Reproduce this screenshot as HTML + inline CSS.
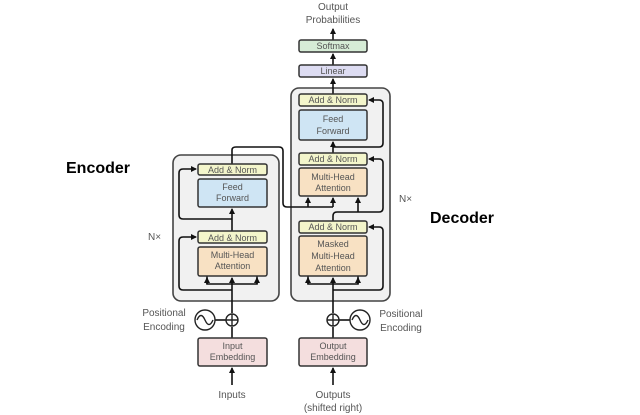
<!DOCTYPE html>
<html><head><meta charset="utf-8"><style>
html,body{margin:0;padding:0;background:#fff;}
svg{display:block;}
text{font-family:"Liberation Sans",sans-serif;}
</style></head><body>
<svg width="640" height="415" viewBox="0 0 640 415" xmlns="http://www.w3.org/2000/svg">
<defs>
<marker id="a" markerWidth="6" markerHeight="6" refX="5" refY="3" orient="auto" markerUnits="userSpaceOnUse">
<path d="M0,0 L6,3 L0,6 z" fill="#111"/></marker>
</defs>
<!-- frames -->
<rect x="173" y="155" width="106" height="146" rx="8" fill="#f1f1f1" stroke="#444" stroke-width="1.6"/>
<rect x="291" y="88" width="99" height="213" rx="8" fill="#f1f1f1" stroke="#444" stroke-width="1.6"/>

<g stroke="#111" stroke-width="1.6" fill="none">
<!-- encoder main line -->
<line x1="232" y1="385" x2="232" y2="368" marker-end="url(#a)"/>
<line x1="232" y1="338" x2="232" y2="327"/>
<line x1="232" y1="313" x2="232" y2="284"/>
<path d="M207,276 L207,284 L257,284 L257,276"/>
<line x1="207" y1="284" x2="207" y2="278" marker-end="url(#a)"/>
<line x1="232" y1="284" x2="232" y2="278" marker-end="url(#a)"/>
<line x1="257" y1="284" x2="257" y2="278" marker-end="url(#a)"/>
<line x1="232" y1="231" x2="232" y2="209" marker-end="url(#a)"/>
<path d="M232,290 L183,290 Q179,290 179,286 L179,241 Q179,237 183,237 L196,237" marker-end="url(#a)"/>
<path d="M232,219 L183,219 Q179,219 179,215 L179,173 Q179,169 183,169 L196,169" marker-end="url(#a)"/>
<!-- encoder output to decoder -->
<path d="M232,164 L232,150 Q232,147 236,147 L279,147 Q283,147 283,151 L283,203 Q283,207 287,207 L333,207"/>
<line x1="308" y1="207" x2="308" y2="198" marker-end="url(#a)"/>
<line x1="333" y1="207" x2="333" y2="198" marker-end="url(#a)"/>
<!-- decoder main -->
<line x1="333" y1="385" x2="333" y2="368" marker-end="url(#a)"/>
<line x1="333" y1="338" x2="333" y2="327"/>
<line x1="333" y1="313" x2="333" y2="284"/>
<path d="M308,276 L308,284 L358,284 L358,276"/>
<line x1="308" y1="284" x2="308" y2="278" marker-end="url(#a)"/>
<line x1="333" y1="284" x2="333" y2="278" marker-end="url(#a)"/>
<line x1="358" y1="284" x2="358" y2="278" marker-end="url(#a)"/>
<path d="M333,290 L379,290 Q383,290 383,286 L383,231 Q383,227 379,227 L369,227" marker-end="url(#a)"/>
<path d="M333,221 L333,216 Q333,212 337,212 L379,212 Q383,212 383,208 L383,163 Q383,159 379,159 L369,159" marker-end="url(#a)"/>
<line x1="358" y1="212" x2="358" y2="198" marker-end="url(#a)"/>
<line x1="333" y1="153" x2="333" y2="142" marker-end="url(#a)"/>
<path d="M333,147 L379,147 Q383,147 383,143 L383,104 Q383,100 379,100 L369,100" marker-end="url(#a)"/>
<line x1="333" y1="94" x2="333" y2="79" marker-end="url(#a)"/>
<line x1="333" y1="65" x2="333" y2="54" marker-end="url(#a)"/>
<line x1="333" y1="40" x2="333" y2="29" marker-end="url(#a)"/>
<!-- positional encodings -->
<line x1="215" y1="320" x2="226" y2="320"/>
<line x1="339" y1="320" x2="350" y2="320"/>
</g>
<g stroke="#222" stroke-width="1.4" fill="none">
<circle cx="232" cy="320" r="6"/><path d="M226,320h12M232,314v12"/>
<circle cx="333" cy="320" r="6"/><path d="M327,320h12M333,314v12"/>
<circle cx="205" cy="320" r="10"/><path d="M197,320 q4,-9 8,0 q4,9 8,0"/>
<circle cx="360" cy="320" r="10"/><path d="M352,320 q4,-9 8,0 q4,9 8,0"/>
</g>

<!-- boxes -->
<g stroke="#333" stroke-width="1.5">
<rect x="198" y="164" width="69" height="11" rx="2" fill="#f3f5cb"/>
<rect x="198" y="179" width="69" height="28" rx="2" fill="#cfe5f4"/>
<rect x="198" y="231" width="69" height="12" rx="2" fill="#f3f5cb"/>
<rect x="198" y="247" width="69" height="29" rx="2" fill="#f8e1c3"/>
<rect x="198" y="338" width="69" height="28" rx="2" fill="#f4dede"/>
<rect x="299" y="94" width="68" height="12" rx="2" fill="#f3f5cb"/>
<rect x="299" y="110" width="68" height="30" rx="2" fill="#cfe5f4"/>
<rect x="299" y="153" width="68" height="12" rx="2" fill="#f3f5cb"/>
<rect x="299" y="168" width="68" height="28" rx="2" fill="#f8e1c3"/>
<rect x="299" y="221" width="68" height="12" rx="2" fill="#f3f5cb"/>
<rect x="299" y="236" width="68" height="40" rx="2" fill="#f8e1c3"/>
<rect x="299" y="338" width="68" height="28" rx="2" fill="#f4dede"/>
<rect x="299" y="40" width="68" height="12" rx="2" fill="#d6ecd6"/>
<rect x="299" y="65" width="68" height="12" rx="2" fill="#dddcf2"/>
</g>

<g font-size="9" fill="#555" text-anchor="middle">
<text x="232.5" y="173">Add &amp; Norm</text>
<text x="232.5" y="190">Feed</text><text x="232.5" y="201">Forward</text>
<text x="232.5" y="241">Add &amp; Norm</text>
<text x="232.5" y="258">Multi-Head</text><text x="232.5" y="269">Attention</text>
<text x="232.5" y="349">Input</text><text x="232.5" y="360">Embedding</text>
<text x="333" y="103">Add &amp; Norm</text>
<text x="333" y="122">Feed</text><text x="333" y="134">Forward</text>
<text x="333" y="162">Add &amp; Norm</text>
<text x="333" y="180">Multi-Head</text><text x="333" y="191">Attention</text>
<text x="333" y="230">Add &amp; Norm</text>
<text x="333" y="247">Masked</text><text x="333" y="259">Multi-Head</text><text x="333" y="271">Attention</text>
<text x="333" y="349">Output</text><text x="333" y="360">Embedding</text>
<text x="333" y="49">Softmax</text>
<text x="333" y="74">Linear</text>
</g>
<g font-size="10" fill="#555">
<text x="333" y="10" text-anchor="middle">Output</text>
<text x="333" y="23" text-anchor="middle">Probabilities</text>
<text x="164" y="316" text-anchor="middle">Positional</text>
<text x="164" y="330" text-anchor="middle">Encoding</text>
<text x="401" y="317" text-anchor="middle">Positional</text>
<text x="401" y="331" text-anchor="middle">Encoding</text>
<text x="232" y="398" text-anchor="middle">Inputs</text>
<text x="333" y="398" text-anchor="middle">Outputs</text>
<text x="333" y="411" text-anchor="middle">(shifted right)</text>
<text x="148" y="240">N×</text>
<text x="399" y="202">N×</text>
</g>
<text x="66" y="173" font-size="16" font-weight="bold" fill="#000">Encoder</text>
<text x="430" y="223" font-size="16" font-weight="bold" fill="#000">Decoder</text>
</svg>
</body></html>
